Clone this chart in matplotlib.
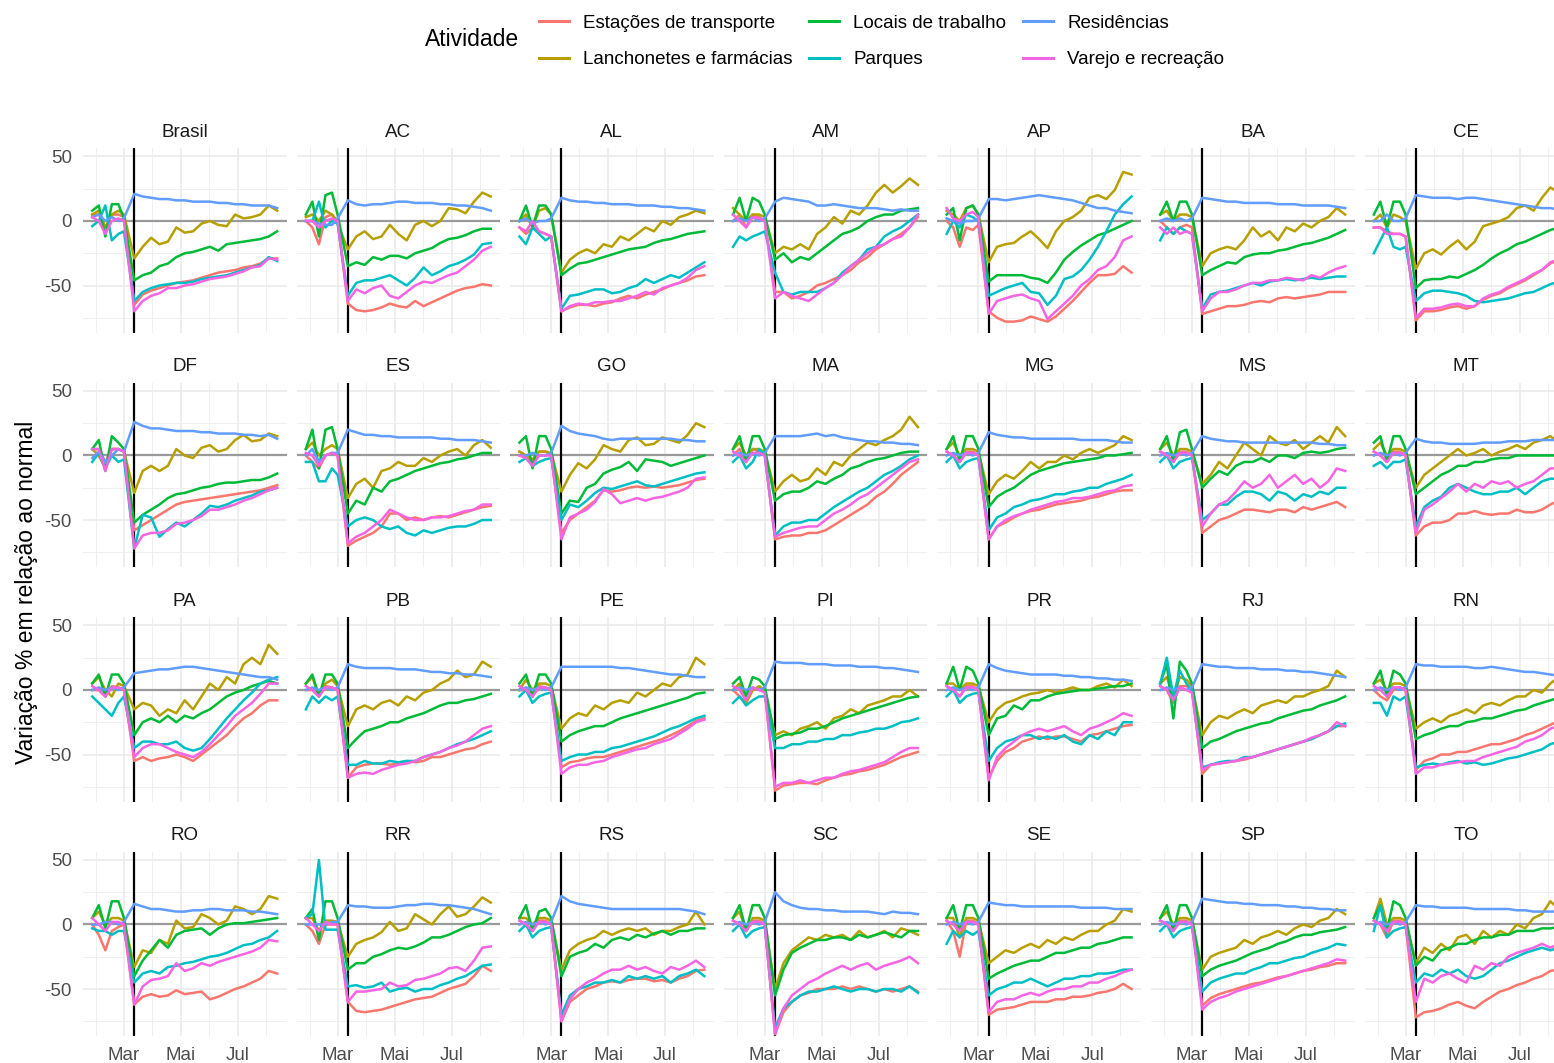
# Mobilidade Google por UF - variação % em relação ao normal
import numpy as np
import matplotlib.pyplot as plt
import matplotlib.dates as mdates
from matplotlib.lines import Line2D

plt.rcParams['font.family'] = ['Liberation Sans', 'DejaVu Sans']

DATES = np.array(["2020-01-27", "2020-02-03", "2020-02-10", "2020-02-17", "2020-02-24",
                  "2020-03-01", "2020-03-12", "2020-03-21", "2020-03-30", "2020-04-08",
                  "2020-04-17", "2020-04-26", "2020-05-05", "2020-05-14", "2020-05-23",
                  "2020-06-01", "2020-06-10", "2020-06-19", "2020-06-28", "2020-07-07",
                  "2020-07-16", "2020-07-25", "2020-08-03", "2020-08-12"], dtype="datetime64[D]")
MARCO = "2020-03-12"  # linha vertical

PANELS = ["Brasil", "AC", "AL", "AM", "AP", "BA", "CE",
          "DF", "ES", "GO", "MA", "MG", "MS", "MT",
          "PA", "PB", "PE", "PI", "PR", "RJ", "RN",
          "RO", "RR", "RS", "SC", "SE", "SP", "TO"]

ACTIVITIES = ["Estações de transporte", "Lanchonetes e farmácias", "Locais de trabalho",
              "Parques", "Residências", "Varejo e recreação"]
COLORS = ["#F8766D", "#B79F00", "#00BA38", "#00BFC4", "#619CFF", "#F564E3"]

MAJOR = ["2020-03-01", "2020-05-01", "2020-07-01"]
MAJOR_LABELS = ["Mar", "Mai", "Jul"]
MINOR = ["2020-01-31", "2020-03-31", "2020-05-31", "2020-07-31"]

TRANSPORTE = {
    "Brasil": [5, 5, -5, 5, 5, 3, -65, -57, -54, -52, -50, -48, -47, -46, -44, -42, -40, -39, -38, -36, -35, -33, -29, -29],
    "AC": [0, -5, -18, 3, 5, 0, -64, -69, -70, -69, -67, -64, -66, -67, -62, -66, -63, -60, -57, -54, -52, -51, -49, -50],
    "AL": [-5, -10, -5, -8, -10, -12, -70, -67, -65, -65, -66, -64, -63, -60, -58, -60, -57, -55, -53, -50, -48, -46, -43, -42],
    "AM": [0, 5, -5, 5, 3, 0, -55, -55, -60, -58, -55, -50, -48, -45, -42, -38, -32, -28, -22, -18, -14, -10, -5, 3],
    "AP": [0, -5, -20, -5, -7, -3, -70, -75, -78, -78, -77, -74, -76, -78, -74, -68, -62, -55, -48, -42, -42, -41, -35, -40],
    "BA": [0, -5, -10, -5, -3, -5, -72, -70, -68, -66, -66, -65, -63, -62, -63, -60, -59, -60, -59, -58, -57, -55, -55, -55],
    "CE": [-5, -5, -8, -10, -10, -12, -77, -70, -70, -69, -67, -66, -68, -66, -61, -58, -56, -52, -49, -46, -42, -38, -33, -30],
    "DF": [5, 5, -5, 5, 5, 3, -58, -54, -50, -46, -42, -38, -36, -35, -34, -33, -32, -31, -30, -29, -28, -27, -25, -23],
    "ES": [0, -5, -10, 0, 2, 0, -70, -66, -63, -60, -55, -45, -45, -50, -48, -50, -48, -47, -48, -46, -44, -42, -40, -39],
    "GO": [3, 0, -5, 3, 3, 0, -60, -50, -45, -40, -35, -27, -28, -27, -25, -24, -25, -24, -25, -24, -23, -21, -19, -18],
    "MA": [0, 5, -5, 5, 3, 0, -65, -63, -62, -62, -60, -60, -58, -54, -50, -46, -42, -38, -32, -28, -22, -15, -10, -5],
    "MG": [3, 0, -5, 3, 3, 0, -65, -55, -52, -48, -45, -43, -42, -40, -38, -37, -36, -35, -33, -32, -30, -28, -27, -27],
    "MS": [3, 0, -5, 3, 3, 0, -60, -55, -50, -48, -45, -42, -42, -43, -44, -42, -42, -44, -40, -42, -40, -38, -36, -40],
    "MT": [3, 0, -5, 3, 3, 0, -62, -55, -52, -52, -50, -45, -45, -43, -45, -46, -45, -45, -42, -44, -44, -42, -38, -35],
    "PA": [0, 0, -5, 3, 2, 0, -55, -52, -55, -53, -52, -50, -52, -55, -50, -45, -40, -35, -28, -22, -18, -12, -8, -8],
    "PB": [0, 0, -5, 3, 2, 0, -68, -60, -58, -57, -57, -58, -57, -55, -56, -55, -52, -52, -50, -48, -46, -45, -42, -40],
    "PE": [0, 0, -5, 3, 2, 0, -60, -56, -55, -53, -52, -52, -50, -48, -46, -44, -42, -40, -38, -35, -32, -28, -24, -22],
    "PI": [0, -5, -10, 0, 2, 0, -78, -74, -73, -72, -72, -73, -70, -68, -66, -65, -63, -62, -60, -58, -55, -52, -50, -48],
    "PR": [3, 0, -5, 3, 3, 0, -68, -55, -48, -45, -40, -38, -36, -38, -36, -36, -38, -40, -35, -34, -32, -30, -28, -27],
    "RJ": [3, 0, -10, 3, 3, 0, -65, -58, -57, -56, -55, -54, -52, -50, -48, -46, -44, -42, -40, -38, -35, -32, -28, -28],
    "RN": [0, -5, -8, 0, 2, 0, -62, -55, -53, -50, -50, -48, -48, -46, -44, -42, -42, -40, -38, -35, -33, -30, -27, -24],
    "RO": [0, -8, -20, -5, -2, 0, -62, -56, -54, -56, -55, -51, -54, -53, -52, -58, -56, -53, -50, -48, -45, -42, -36, -38],
    "RR": [0, -5, -15, 0, 0, 0, -60, -67, -68, -67, -66, -64, -62, -60, -58, -57, -56, -53, -50, -48, -46, -40, -32, -36],
    "RS": [3, 0, -5, 3, 3, 0, -75, -60, -55, -50, -48, -45, -44, -45, -43, -42, -42, -44, -43, -45, -42, -40, -36, -35],
    "SC": [3, 0, -5, 3, 3, 0, -85, -68, -60, -55, -53, -50, -50, -50, -48, -50, -48, -50, -52, -50, -52, -50, -48, -52],
    "SE": [3, -5, -25, 3, 3, 0, -70, -66, -65, -64, -62, -60, -60, -60, -58, -58, -56, -56, -55, -53, -52, -50, -46, -50],
    "SP": [3, 0, -5, 3, 3, 0, -63, -57, -54, -52, -50, -48, -46, -45, -43, -41, -40, -38, -36, -35, -33, -32, -30, -30],
    "TO": [3, 0, -10, 3, 3, 0, -72, -68, -67, -65, -62, -60, -63, -65, -60, -56, -52, -50, -47, -45, -42, -40, -36, -35],
}

LANCHONETES = {
    "Brasil": [5, 8, -5, 5, 8, 5, -29, -20, -13, -18, -16, -5, -9, -8, -2, 0, -3, -4, 5, 2, 3, 5, 12, 8],
    "AC": [3, 5, 0, 8, 5, -2, -22, -12, -8, -14, -12, -3, -10, -15, -3, 0, -4, 0, 10, 9, 6, 15, 22, 19],
    "AL": [0, 5, -5, 8, 10, 5, -40, -30, -25, -22, -25, -18, -20, -12, -15, -10, -5, -8, 0, -3, 3, 5, 8, 6],
    "AM": [10, 5, 0, 5, 5, 3, -25, -20, -22, -18, -22, -10, -5, 3, -2, 8, 5, 12, 22, 28, 22, 27, 33, 28],
    "AP": [8, 5, 0, 10, 12, 5, -32, -20, -18, -17, -12, -8, -14, -21, -8, 0, 3, 8, 18, 20, 17, 24, 38, 36],
    "BA": [5, 8, 0, 5, 5, 3, -35, -25, -22, -20, -22, -15, -5, -12, -8, -15, -5, -8, -2, -5, 0, 3, 10, 5],
    "CE": [0, 5, -5, 5, 3, 0, -37, -25, -22, -26, -20, -15, -22, -16, -4, -2, 0, 3, 10, 12, 8, 18, 26, 22],
    "DF": [5, 0, -10, 5, 5, 3, -29, -12, -8, -12, -8, 5, 0, -2, 6, 8, 3, 5, 12, 16, 11, 12, 17, 15],
    "ES": [5, 10, 0, 5, 8, 5, -33, -22, -18, -25, -12, -10, -5, -8, -8, -2, -5, 0, 3, 5, 0, 8, 12, 6],
    "GO": [3, 0, -3, 3, 3, 2, -28, -15, -6, -10, -3, 8, 5, 3, 12, 14, 8, 9, 14, 12, 10, 16, 25, 22],
    "MA": [5, 10, 0, 5, 5, 3, -28, -20, -15, -20, -18, -10, -15, -5, -8, 0, 5, 10, 8, 12, 15, 20, 30, 22],
    "MG": [5, 10, 0, 5, 5, 3, -30, -20, -15, -18, -12, -5, -10, -5, -5, 0, -3, 2, 5, 2, 5, 8, 15, 12],
    "MS": [5, 10, 0, 5, 5, 3, -22, -15, -5, -10, 0, 10, 5, 0, 15, 10, 8, 12, 5, 10, 15, 10, 22, 15],
    "MT": [5, 10, 0, 5, 5, 3, -25, -15, -10, -5, 0, 5, 0, 2, 5, 0, 3, 5, 8, 5, 10, 12, 15, 10],
    "PA": [5, 10, 0, -5, 5, 3, -15, -10, -12, -20, -15, -18, -8, -15, -5, 5, 0, 10, 5, 20, 25, 20, 35, 28],
    "PB": [5, 10, -5, 5, 8, 3, -28, -15, -12, -15, -10, -8, -12, -5, -8, -2, 0, 5, 8, 15, 10, 12, 22, 18],
    "PE": [0, 8, 0, 5, 5, 3, -30, -22, -18, -20, -12, -15, -10, -8, -10, -2, -5, 0, 5, 3, 10, 12, 25, 20],
    "PI": [0, 5, -10, 0, 3, 0, -35, -32, -35, -30, -28, -25, -30, -22, -20, -15, -18, -12, -10, -8, -5, -5, 0, -5],
    "PR": [5, 5, 0, 5, 5, 3, -25, -15, -10, -8, -5, -3, -2, 0, -2, 0, 2, 0, 0, 3, 5, 2, 8, 3],
    "RJ": [5, 10, -5, 10, 8, 3, -35, -25, -20, -22, -18, -15, -18, -12, -10, -8, -10, -5, -5, -2, 0, 3, 15, 10],
    "RN": [5, 8, 0, 5, 5, 3, -30, -25, -22, -25, -20, -18, -15, -18, -12, -10, -12, -8, -5, -5, 0, -2, 5, 10],
    "RO": [5, 10, 0, 5, 5, 3, -33, -20, -22, -12, -15, 3, -3, -2, 8, 5, 0, 3, 14, 12, 8, 12, 22, 20],
    "RR": [5, 5, -5, 3, 3, 2, -25, -15, -12, -10, -6, 2, -5, -3, 8, 4, 0, 8, 14, 6, 8, 14, 21, 17],
    "RS": [5, 5, 0, 5, 5, 3, -35, -20, -15, -12, -10, -5, -8, -5, -3, -5, -3, -8, -5, -5, -2, 0, 10, 0],
    "SC": [5, 10, -5, 5, 5, 3, -50, -30, -20, -15, -10, -12, -8, -10, -8, -12, -5, -10, -8, -5, -10, -3, -5, -8],
    "SE": [5, 5, -10, 5, 5, 3, -30, -25, -20, -22, -18, -15, -18, -12, -15, -10, -12, -8, -5, -5, 0, 3, 12, 10],
    "SP": [5, 10, 0, 5, 5, 3, -35, -25, -22, -20, -18, -12, -15, -10, -8, -5, -8, -3, 0, -2, 3, 5, 12, 8],
    "TO": [5, 20, 0, 5, 5, 3, -30, -18, -22, -15, -20, -10, -8, -15, -5, -10, -5, -8, 0, -3, 5, 8, 18, 12],
}

TRABALHO = {
    "Brasil": [8, 12, -12, 13, 13, 2, -46, -42, -40, -35, -33, -28, -25, -24, -22, -20, -23, -18, -17, -16, -15, -14, -12, -8],
    "AC": [5, 15, -12, 20, 22, 5, -35, -32, -34, -28, -30, -27, -27, -29, -25, -23, -21, -17, -14, -13, -11, -8, -6, -6],
    "AL": [0, 12, -5, 12, 12, 5, -42, -37, -33, -32, -30, -28, -26, -24, -22, -21, -20, -17, -15, -14, -12, -10, -9, -8],
    "AM": [5, 18, 0, 18, 15, 5, -30, -25, -32, -28, -30, -25, -20, -15, -10, -8, -5, 0, 3, 5, 5, 8, 9, 10],
    "AP": [5, 10, -15, 10, 12, 5, -47, -42, -42, -42, -42, -44, -45, -48, -40, -30, -24, -19, -15, -11, -9, -6, -3, 0],
    "BA": [5, 15, 0, 15, 15, 5, -42, -38, -35, -32, -33, -28, -26, -25, -25, -23, -22, -20, -18, -17, -15, -13, -10, -7],
    "CE": [5, 15, -5, 15, 15, 5, -52, -46, -45, -45, -43, -44, -41, -38, -34, -29, -25, -22, -18, -16, -13, -10, -7, -5],
    "DF": [5, 12, -12, 15, 10, 5, -52, -46, -42, -38, -33, -30, -29, -27, -25, -24, -22, -21, -21, -20, -19, -19, -17, -14],
    "ES": [5, 20, -10, 20, 22, 5, -45, -35, -38, -25, -28, -20, -18, -15, -12, -10, -8, -6, -5, -3, -2, 0, 2, 2],
    "GO": [10, 15, -10, 15, 15, 5, -45, -35, -36, -25, -22, -14, -11, -9, -5, -12, -3, -4, -5, -8, -6, -4, -2, 0],
    "MA": [5, 15, -5, 15, 15, 5, -35, -30, -28, -28, -25, -20, -22, -18, -15, -10, -8, -5, -3, -2, 0, 2, 3, 3],
    "MG": [5, 15, -5, 15, 15, 5, -40, -32, -28, -25, -20, -15, -12, -10, -8, -6, -5, -4, -3, -2, 0, 0, 1, 2],
    "MS": [5, 15, -5, 18, 20, 5, -25, -18, -12, -15, -8, -5, -5, -2, -5, 0, 0, -2, 2, 3, 2, 3, 5, 6],
    "MT": [10, 15, -5, 15, 15, 5, -30, -25, -20, -15, -12, -8, -8, -5, -5, -3, -2, -2, 0, 0, 0, 0, 0, 0],
    "PA": [5, 12, -5, 12, 12, 5, -35, -25, -22, -25, -20, -25, -20, -22, -18, -15, -10, -5, -2, 0, 3, 5, 7, 5],
    "PB": [5, 12, -5, 12, 12, 5, -45, -38, -32, -30, -28, -25, -25, -22, -20, -18, -15, -12, -10, -10, -8, -7, -5, -3],
    "PE": [5, 12, -5, 12, 12, 5, -40, -35, -32, -30, -28, -28, -25, -22, -20, -18, -16, -14, -12, -10, -8, -6, -3, -2],
    "PI": [5, 10, -5, 10, 8, 3, -38, -35, -34, -33, -30, -30, -28, -25, -22, -20, -18, -16, -14, -12, -10, -8, -6, -5],
    "PR": [5, 18, 0, 18, 15, 5, -35, -22, -20, -12, -15, -8, -8, -5, -3, -2, -1, 0, 0, 1, 2, 3, 3, 5],
    "RJ": [5, 20, -22, 22, 15, 5, -45, -40, -38, -35, -32, -30, -28, -26, -25, -22, -20, -18, -16, -15, -12, -10, -8, -5],
    "RN": [5, 15, -5, 15, 12, 5, -38, -35, -33, -30, -28, -28, -25, -24, -22, -22, -20, -18, -16, -15, -12, -10, -8, -6],
    "RO": [5, 15, -3, 18, 18, 5, -40, -28, -20, -12, -18, -8, -5, -4, -3, -8, -3, 0, 1, 1, 2, 3, 4, 5],
    "RR": [5, 12, -12, 18, 18, 5, -35, -30, -30, -25, -23, -20, -18, -19, -17, -14, -10, -10, -8, -5, -2, 0, 1, 5],
    "RS": [5, 15, -5, 10, 12, 5, -40, -25, -22, -20, -15, -18, -12, -10, -12, -8, -10, -7, -5, -8, -5, -5, -3, -3],
    "SC": [5, 15, -5, 15, 15, 5, -55, -35, -22, -18, -15, -12, -12, -10, -10, -12, -8, -10, -8, -6, -8, -10, -5, -5],
    "SE": [5, 15, -5, 15, 15, 5, -42, -38, -35, -32, -30, -28, -28, -25, -22, -22, -20, -18, -18, -15, -14, -12, -10, -10],
    "SP": [5, 15, -5, 15, 15, 5, -40, -35, -32, -30, -28, -25, -22, -20, -18, -15, -13, -10, -8, -8, -6, -5, -4, -2],
    "TO": [5, 15, -5, 18, 15, 5, -32, -25, -28, -20, -18, -15, -15, -12, -10, -10, -8, -8, -5, -5, -5, -3, -3, -2],
}

PARQUES = {
    "Brasil": [-4, 0, 12, -15, -10, -8, -62, -55, -52, -50, -49, -48, -48, -47, -45, -44, -43, -42, -40, -38, -36, -34, -28, -31],
    "AC": [0, 0, 15, -5, 0, -2, -58, -48, -46, -46, -44, -42, -46, -50, -44, -36, -42, -39, -35, -33, -30, -26, -18, -17],
    "AL": [-12, -18, -5, -10, -15, -12, -68, -58, -57, -55, -53, -53, -56, -55, -52, -50, -45, -48, -45, -42, -44, -40, -36, -32],
    "AM": [-20, -12, -15, -12, -10, -8, -40, -55, -57, -55, -55, -55, -52, -48, -40, -35, -30, -22, -20, -12, -8, -5, 0, 5],
    "AP": [-10, 0, -5, 5, 3, 0, -58, -55, -52, -50, -48, -55, -56, -65, -58, -45, -43, -38, -30, -20, -8, 5, 13, 19],
    "BA": [-15, -5, -10, -5, -8, -10, -68, -57, -55, -54, -52, -50, -48, -50, -47, -46, -45, -46, -45, -44, -45, -44, -43, -43],
    "CE": [-25, -15, -5, -20, -22, -20, -62, -56, -54, -54, -55, -56, -58, -62, -63, -62, -61, -60, -58, -56, -55, -52, -49, -47],
    "DF": [-5, 2, -10, 0, -5, -3, -72, -46, -48, -63, -57, -52, -55, -50, -45, -39, -40, -38, -35, -33, -31, -28, -27, -25],
    "ES": [-5, -5, -20, -20, -10, -15, -55, -50, -48, -50, -55, -57, -55, -60, -62, -58, -60, -58, -56, -55, -55, -53, -50, -50],
    "GO": [-5, -2, -8, -5, -3, -2, -50, -38, -40, -35, -29, -25, -26, -24, -22, -20, -23, -24, -22, -20, -18, -16, -14, -13],
    "MA": [-5, 0, -10, -5, 5, 0, -62, -55, -52, -52, -50, -50, -45, -40, -36, -32, -28, -25, -20, -15, -12, -8, -3, 0],
    "MG": [-5, 0, -10, -5, -3, -2, -58, -48, -45, -40, -38, -35, -34, -32, -30, -30, -28, -27, -25, -25, -22, -20, -18, -15],
    "MS": [-5, 0, -10, -5, -3, -2, -50, -45, -38, -38, -32, -28, -28, -30, -35, -28, -30, -35, -30, -32, -28, -30, -25, -25],
    "MT": [-8, -5, -10, -5, -5, -3, -55, -40, -35, -32, -25, -22, -25, -28, -30, -30, -28, -28, -25, -30, -25, -20, -18, -18],
    "PA": [-5, -10, -15, -20, -10, -5, -45, -40, -40, -42, -42, -40, -45, -47, -45, -38, -30, -22, -15, -8, -2, 5, 8, 10],
    "PB": [-15, -5, -10, -5, -8, -5, -58, -58, -55, -57, -57, -55, -56, -55, -55, -52, -50, -48, -45, -42, -40, -38, -35, -32],
    "PE": [-5, 0, -10, -5, -3, -2, -55, -52, -50, -50, -48, -48, -45, -44, -42, -40, -38, -36, -33, -30, -28, -25, -22, -20],
    "PI": [-10, -5, -12, -8, -5, -5, -45, -45, -42, -42, -40, -40, -38, -38, -35, -35, -33, -32, -30, -30, -28, -25, -24, -22],
    "PR": [-5, 0, -10, -5, -3, -2, -55, -45, -40, -38, -35, -35, -38, -36, -38, -35, -40, -42, -35, -38, -32, -35, -25, -25],
    "RJ": [5, 25, -5, 15, 5, 0, -60, -58, -56, -55, -55, -52, -52, -50, -48, -46, -44, -42, -40, -38, -35, -32, -28, -26],
    "RN": [-10, -10, -20, -5, -8, -5, -60, -58, -57, -58, -56, -55, -57, -56, -58, -57, -55, -53, -52, -50, -48, -46, -42, -40],
    "RO": [-3, -5, -5, -8, -5, -5, -45, -38, -36, -38, -33, -32, -30, -29, -27, -25, -24, -22, -19, -16, -15, -12, -10, -5],
    "RR": [5, 8, 50, -4, -4, -4, -48, -47, -49, -48, -45, -52, -50, -49, -52, -50, -50, -47, -45, -42, -40, -36, -32, -31],
    "RS": [-5, 0, -10, -5, -3, -2, -70, -55, -50, -48, -45, -45, -43, -45, -40, -42, -40, -42, -40, -45, -40, -38, -35, -40],
    "SC": [-5, 0, -10, -5, -3, -2, -80, -65, -60, -55, -52, -52, -50, -48, -50, -52, -50, -50, -52, -50, -50, -52, -48, -53],
    "SE": [-15, -5, -10, -5, -8, -5, -55, -50, -48, -45, -45, -42, -45, -48, -45, -42, -42, -40, -40, -38, -38, -37, -35, -35],
    "SP": [-5, 0, -10, -5, -3, -2, -52, -45, -42, -40, -38, -38, -35, -33, -30, -30, -28, -26, -25, -22, -20, -18, -15, -16],
    "TO": [-5, 15, -10, -5, -3, -2, -45, -38, -40, -35, -38, -35, -40, -42, -40, -35, -30, -28, -25, -22, -20, -18, -20, -18],
}

RESIDENCIAS = {
    "Brasil": [3, 5, 0, 3, 0, 2, 21, 19, 18, 17, 17, 16, 16, 15, 15, 15, 14, 14, 13, 13, 12, 12, 12, 10],
    "AC": [0, 0, -2, -3, -3, 2, 16, 13, 12, 13, 13, 14, 15, 15, 14, 14, 14, 13, 13, 12, 12, 11, 10, 8],
    "AL": [0, 2, -2, 0, 0, 2, 18, 16, 15, 15, 14, 14, 13, 13, 13, 12, 12, 12, 11, 11, 10, 10, 9, 8],
    "AM": [0, 2, 0, 3, 0, 2, 15, 18, 17, 16, 15, 12, 12, 13, 12, 11, 10, 10, 10, 9, 8, 9, 8, 8],
    "AP": [2, 0, -2, 0, 0, 2, 17, 17, 16, 17, 18, 19, 20, 19, 18, 17, 16, 14, 12, 10, 10, 8, 7, 6],
    "BA": [0, 2, 0, 2, 0, 2, 18, 17, 16, 15, 15, 14, 14, 14, 14, 13, 13, 13, 12, 12, 12, 12, 11, 10],
    "CE": [0, 0, 5, 0, 0, 2, 20, 19, 18, 18, 18, 17, 18, 18, 17, 16, 15, 14, 13, 12, 11, 10, 10, 9],
    "DF": [-2, 3, -5, 0, 5, 3, 26, 23, 21, 21, 20, 19, 19, 19, 18, 18, 17, 17, 17, 16, 16, 15, 16, 13],
    "ES": [0, 5, -5, 0, 2, 2, 20, 18, 16, 16, 15, 15, 14, 14, 14, 14, 14, 13, 13, 12, 12, 12, 11, 10],
    "GO": [0, 0, 2, 0, 0, 2, 23, 19, 17, 16, 15, 13, 12, 13, 13, 13, 13, 13, 13, 13, 12, 12, 11, 11],
    "MA": [0, 2, 0, 2, 0, 2, 15, 15, 15, 15, 16, 17, 15, 16, 14, 13, 12, 11, 11, 10, 10, 9, 9, 8],
    "MG": [0, 2, 0, 2, 0, 2, 18, 16, 15, 14, 14, 13, 13, 13, 13, 13, 13, 12, 12, 12, 12, 11, 10, 10],
    "MS": [0, 2, 0, 2, 0, 2, 15, 13, 12, 11, 11, 10, 10, 10, 10, 10, 10, 10, 10, 10, 9, 9, 8, 8],
    "MT": [0, 2, 0, 2, 0, 2, 13, 11, 10, 10, 9, 9, 9, 9, 10, 10, 10, 11, 11, 11, 12, 12, 12, 12],
    "PA": [0, 2, 0, 2, 0, 2, 13, 14, 15, 16, 16, 17, 18, 18, 17, 16, 15, 14, 13, 12, 11, 10, 10, 8],
    "PB": [0, 2, 0, 2, 0, 2, 20, 18, 17, 17, 17, 17, 16, 16, 16, 15, 14, 14, 13, 13, 12, 12, 11, 10],
    "PE": [0, 2, 0, 2, 0, 2, 18, 18, 18, 18, 18, 18, 18, 17, 17, 16, 15, 14, 13, 12, 12, 11, 10, 10],
    "PI": [0, 2, 0, 2, 0, 2, 22, 21, 21, 21, 20, 20, 20, 19, 19, 19, 18, 18, 18, 17, 17, 16, 15, 14],
    "PR": [0, 2, 0, 2, 0, 2, 20, 17, 15, 14, 13, 12, 12, 12, 12, 11, 11, 10, 10, 9, 9, 8, 8, 7],
    "RJ": [0, 2, 0, 2, 0, 2, 20, 19, 18, 18, 17, 17, 17, 16, 16, 16, 15, 15, 14, 14, 13, 12, 11, 10],
    "RN": [0, 2, 0, 2, 0, 2, 20, 19, 19, 18, 18, 18, 18, 17, 17, 18, 17, 16, 15, 14, 14, 13, 12, 11],
    "RO": [0, 0, 2, 2, 0, 2, 16, 14, 12, 12, 11, 10, 10, 11, 11, 12, 12, 11, 11, 11, 10, 10, 9, 8],
    "RR": [0, 0, 0, 0, 2, 2, 15, 14, 14, 13, 13, 13, 14, 15, 15, 16, 16, 15, 15, 14, 13, 12, 10, 8],
    "RS": [0, 2, 0, 2, 0, 2, 22, 18, 16, 15, 14, 13, 12, 12, 12, 12, 12, 12, 12, 12, 12, 11, 10, 8],
    "SC": [0, 2, 0, 2, 0, 2, 25, 18, 15, 13, 12, 12, 11, 11, 10, 10, 10, 10, 9, 8, 10, 9, 9, 8],
    "SE": [0, 2, 0, 2, 0, 2, 17, 16, 15, 15, 14, 14, 14, 14, 14, 14, 14, 13, 13, 13, 13, 12, 12, 12],
    "SP": [0, 2, 0, 2, 0, 2, 20, 19, 18, 17, 17, 16, 16, 15, 15, 15, 14, 14, 13, 13, 12, 12, 11, 11],
    "TO": [0, 2, 0, 2, 0, 2, 15, 14, 14, 13, 13, 13, 13, 12, 12, 12, 12, 12, 11, 11, 10, 10, 10, 10],
}

VAREJO = {
    "Brasil": [3, 0, -10, 0, 2, 0, -70, -62, -58, -56, -52, -52, -50, -49, -47, -45, -44, -43, -41, -39, -36, -35, -29, -30],
    "AC": [0, 0, -5, 0, 2, 0, -62, -53, -56, -52, -50, -58, -60, -55, -50, -47, -48, -45, -42, -40, -35, -30, -23, -20],
    "AL": [-5, -8, 0, -8, -10, -12, -70, -66, -64, -65, -63, -63, -62, -62, -60, -58, -55, -57, -52, -50, -48, -44, -38, -35],
    "AM": [5, 0, -5, 3, 2, 0, -60, -55, -58, -60, -62, -57, -52, -48, -42, -35, -30, -25, -20, -18, -14, -12, -5, 5],
    "AP": [10, 2, 0, 5, 7, 3, -72, -62, -60, -58, -57, -60, -62, -76, -70, -64, -58, -50, -45, -38, -35, -28, -15, -12],
    "BA": [-5, -10, -5, -10, -8, -10, -70, -60, -55, -55, -53, -50, -48, -48, -46, -46, -44, -45, -46, -42, -44, -40, -37, -35],
    "CE": [-5, -5, -10, -10, -10, -12, -75, -68, -68, -67, -65, -64, -66, -66, -60, -57, -55, -51, -48, -45, -41, -38, -32, -30],
    "DF": [5, 5, -12, 5, 5, 3, -72, -62, -60, -60, -58, -53, -52, -50, -47, -42, -42, -40, -38, -35, -33, -30, -27, -25],
    "ES": [2, 0, -8, 0, 2, 0, -68, -63, -60, -55, -50, -42, -45, -48, -50, -50, -48, -48, -47, -45, -43, -42, -38, -38],
    "GO": [0, -2, -8, 0, 0, 0, -65, -48, -45, -42, -36, -26, -30, -37, -35, -33, -35, -33, -32, -30, -28, -25, -18, -17],
    "MA": [3, 0, -5, 2, 2, 0, -63, -60, -58, -56, -55, -55, -50, -45, -42, -38, -33, -30, -25, -20, -15, -10, -5, -3],
    "MG": [3, 0, -5, 2, 2, 0, -65, -55, -50, -47, -45, -42, -40, -38, -36, -35, -33, -33, -32, -30, -28, -27, -24, -23],
    "MS": [3, 0, -5, 2, 2, 0, -55, -45, -38, -35, -28, -20, -25, -22, -15, -25, -20, -15, -22, -18, -25, -20, -10, -12],
    "MT": [3, 0, -5, 2, 2, 0, -60, -42, -38, -33, -28, -22, -28, -22, -25, -20, -22, -20, -25, -22, -20, -15, -10, -10],
    "PA": [3, 0, -5, 2, 2, 0, -52, -45, -42, -42, -45, -48, -50, -52, -48, -42, -35, -28, -20, -15, -10, -3, 5, 5],
    "PB": [3, 0, -5, 2, 2, 0, -68, -65, -64, -65, -62, -60, -58, -57, -55, -52, -50, -48, -45, -43, -40, -35, -30, -28],
    "PE": [3, 0, -5, 2, 2, 0, -65, -60, -58, -58, -56, -55, -52, -50, -48, -46, -45, -42, -40, -38, -34, -30, -25, -23],
    "PI": [3, 0, -8, 2, 0, -2, -75, -72, -72, -70, -72, -70, -68, -68, -65, -63, -62, -60, -58, -56, -52, -48, -45, -45],
    "PR": [3, 0, -5, 2, 2, 0, -70, -52, -45, -40, -35, -32, -30, -32, -30, -28, -32, -35, -30, -28, -25, -22, -18, -20],
    "RJ": [3, 0, -8, 2, 0, -2, -62, -58, -57, -56, -55, -53, -52, -50, -48, -46, -44, -42, -40, -37, -35, -32, -25, -28],
    "RN": [3, 0, -5, 2, 2, 0, -65, -60, -60, -58, -57, -56, -55, -55, -52, -50, -48, -46, -44, -40, -38, -35, -30, -28],
    "RO": [5, 0, -5, 2, 2, 0, -62, -48, -43, -42, -40, -30, -36, -34, -30, -32, -29, -27, -25, -23, -21, -18, -12, -13],
    "RR": [5, 0, -5, 2, 0, 0, -60, -52, -52, -51, -50, -45, -48, -47, -43, -42, -40, -38, -34, -33, -36, -28, -18, -17],
    "RS": [3, 0, -5, 2, 2, 0, -75, -58, -50, -45, -42, -38, -35, -35, -32, -35, -33, -36, -38, -33, -35, -32, -28, -33],
    "SC": [3, 0, -5, 2, 2, 0, -85, -65, -55, -50, -45, -42, -38, -35, -32, -35, -32, -30, -35, -32, -30, -28, -25, -30],
    "SE": [3, 0, -5, 2, 2, 0, -68, -60, -58, -58, -55, -53, -55, -52, -50, -50, -48, -48, -45, -45, -42, -40, -37, -35],
    "SP": [3, 0, -5, 2, 2, 0, -66, -60, -57, -55, -52, -50, -48, -46, -44, -42, -40, -38, -36, -34, -32, -30, -27, -28],
    "TO": [3, 0, -5, 2, 2, 0, -60, -42, -45, -40, -38, -42, -45, -32, -35, -30, -32, -25, -22, -20, -18, -15, -18, -15],
}

SERIES = [TRANSPORTE, LANCHONETES, TRABALHO, PARQUES, RESIDENCIAS, VAREJO]

# layout (pixels)
W, H = 1554, 1063
fig = plt.figure(figsize=(W / 100, H / 100), dpi=100)
x = mdates.date2num(DATES)
x_left = mdates.date2num(np.datetime64("2020-01-17"))
x_right = mdates.date2num(np.datetime64("2020-08-22"))

for i, uf in enumerate(PANELS):
    r, c = divmod(i, 7)
    left = 82.9 + 213.6 * c
    top = 148.1 + 234.5 * r
    ax = fig.add_axes([left / W, 1 - (top + 184.5) / H, 203.6 / W, 184.5 / H])
    ax.set_axisbelow(True)
    for spine in ax.spines.values():
        spine.set_visible(False)

    ax.axhline(0, color="#9A9A9A", lw=1.6, zorder=1)
    ax.axvline(mdates.date2num(np.datetime64(MARCO)), color="black", lw=1.6, zorder=1)
    for serie, col in zip(SERIES, COLORS):
        ax.plot(x, serie[uf], color=col, lw=1.8, zorder=2, solid_joinstyle="round")

    ax.set_xlim(x_left, x_right)
    ax.set_ylim(-86.5, 56.5)
    ax.set_xticks(mdates.date2num(np.array(MAJOR, dtype="datetime64[D]")))
    ax.set_xticks(mdates.date2num(np.array(MINOR, dtype="datetime64[D]")), minor=True)
    ax.set_yticks([-50, 0, 50])
    ax.set_yticks([-75, -25, 25], minor=True)
    ax.set_xticklabels(MAJOR_LABELS)
    ax.set_yticklabels(["-50", "0", "50"])
    ax.grid(which="major", color="#EBEBEB", lw=1.2)
    ax.grid(which="minor", color="#EFEFEF", lw=0.7)
    ax.tick_params(which="both", length=0, labelsize=13.5, labelcolor="#4D4D4D")
    ax.tick_params(axis="y", pad=8, labelleft=(c == 0))
    ax.tick_params(axis="x", pad=8, labelbottom=(r == 3))
    ax.set_title(uf, fontsize=13.5, color="#1A1A1A", pad=8)

fig.text(27 / W, 1 - 592 / H, "Variação % em relação ao normal", rotation=90,
         ha="center", va="center", fontsize=16.5)

handles = [Line2D([], [], color=col, lw=2.2) for col in COLORS]
fig.legend(handles, ACTIVITIES, ncol=3, loc="center", bbox_to_anchor=(881.5 / W, 1 - 41.5 / H),
           frameon=False, fontsize=13.5, handlelength=1.6, handletextpad=0.75,
           columnspacing=0.9, labelspacing=1.02, borderpad=0, borderaxespad=0)
fig.text(472 / W, 1 - 39 / H, "Atividade", ha="center", va="center", fontsize=16.5)

fig.savefig("out.png", dpi=100)
